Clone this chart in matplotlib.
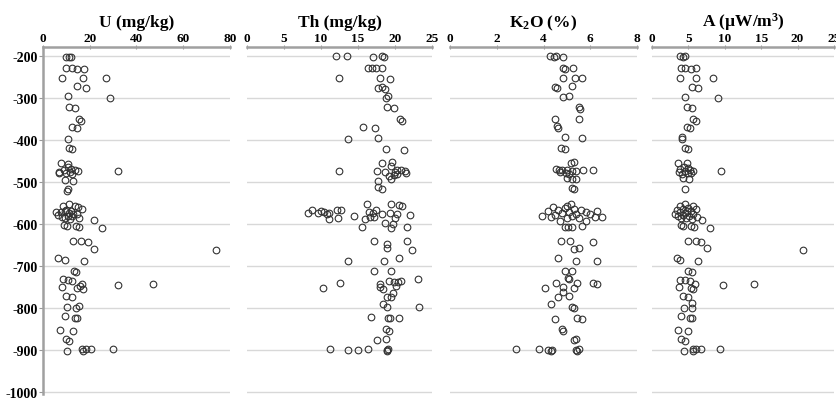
import matplotlib
matplotlib.use("Agg")
import matplotlib.pyplot as plt

plt.rcParams["font.family"] = "Liberation Serif"
plt.rcParams["font.weight"] = "bold"
plt.rcParams["axes.unicode_minus"] = False
plt.rcParams["mathtext.fontset"] = "custom"
plt.rcParams["mathtext.rm"] = "Liberation Serif:bold"
plt.rcParams["mathtext.default"] = "rm"

# U (mg/kg) against depth
u_depth = [-201, -201, -202, -229, -229, -230, -230, -252, -251, -251,
           -272, -275, -295, -300, -322, -324, -350, -354, -368, -371,
           -397, -418, -421, -454, -456,
           -465, -468, -470, -472, -474, -475, -477, -479, -480, -478, -473,
           -495, -497, -516, -521,
           -553, -557, -558, -560, -564, -566, -568, -570, -572, -574,
           -575, -577, -578, -580, -581, -583, -585, -587, -586, -571,
           -590, -603, -605, -604, -606, -609, -640, -641, -642,
           -660, -661, -680, -686, -687, -712, -715,
           -732, -734, -736, -742, -745, -744, -751, -753, -755, -748,
           -771, -775, -798, -799, -796, -820, -823, -824, -852, -855,
           -875, -878, -898, -897, -897, -897, -903, -902]
u_val = [9.8, 11.0, 12.0, 10.0, 12.3, 14.5, 17.5, 8.2, 17.0, 27.0,
         14.5, 18.3, 10.8, 28.6, 11.0, 13.7, 15.4, 16.2, 12.3, 14.5,
         10.8, 11.0, 12.3, 7.6, 10.8,
         10.8, 12.0, 9.0, 13.5, 15.0, 11.5, 7.0, 10.0, 12.5, 6.8, 31.9,
         9.4, 12.8, 10.8, 10.2,
         11.0, 8.5, 13.5, 15.0, 16.5, 10.0, 12.0, 9.5, 7.5, 11.0,
         13.0, 14.5, 6.5, 10.5, 12.5, 8.0, 15.5, 11.5, 9.5, 5.5,
         21.8, 9.0, 10.2, 14.0, 15.4, 25.4, 12.7, 16.2, 19.3,
         21.9, 74.2, 6.4, 9.4, 17.6, 13.2, 14.0,
         8.5, 10.5, 12.4, 16.6, 32.0, 47.1, 8.0, 14.4, 17.1, 15.8,
         9.7, 12.4, 10.2, 14.0, 15.4, 9.4, 13.7, 14.6, 7.3, 12.7,
         9.8, 11.1, 16.9, 18.3, 20.5, 29.8, 10.3, 17.1]

# Th (mg/kg) against depth
th_depth = [-200, -200, -201, -200, -202, -228, -229, -228, -229,
            -252, -251, -254, -276, -274, -277, -295, -300, -322, -324,
            -350, -355, -369, -371, -397, -395, -421, -423, -454, -452, -461,
            -473, -473, -476, -470, -472, -474, -477, -480, -479, -482, -485,
            -497, -493, -512, -516, -553, -551, -555, -558,
            -566, -568, -566, -566, -567,
            -573, -573, -572, -574, -575, -572, -574, -576, -573, -575,
            -580, -578, -588, -586, -587, -584, -583, -585,
            -598, -601, -607, -610, -608, -640, -641, -647, -657, -661,
            -680, -687, -687, -713, -713, -730,
            -736, -737, -738, -736, -742, -740, -753, -751, -755, -748,
            -765, -775, -773, -790, -798, -797, -822, -824, -824, -825,
            -850, -856, -877, -875,
            -897, -899, -900, -898, -899, -897, -903]
th_val = [12.0, 13.5, 17.0, 18.2, 18.5, 16.4, 16.9, 17.4, 18.2,
          12.4, 17.9, 19.3, 17.7, 18.3, 18.6, 19.0, 18.8, 18.9, 19.8,
          20.7, 20.9, 15.7, 17.3, 13.7, 17.7, 18.8, 21.2, 18.2, 19.6, 19.4,
          12.4, 17.5, 18.6, 20.3, 20.8, 21.3, 20.0, 20.2, 21.5, 19.9, 19.2,
          17.7, 19.5, 17.7, 18.3, 16.2, 19.4, 20.6, 20.9,
          8.8, 10.0, 12.2, 12.7, 17.4,
          8.2, 9.6, 10.4, 11.1, 10.8, 16.5, 17.0, 18.3, 19.3, 20.3,
          14.5, 22.0, 11.1, 12.3, 16.0, 16.6, 17.2, 20.0,
          18.6, 19.7, 15.6, 19.4, 21.6, 17.2, 21.6, 18.9, 18.9, 22.3,
          20.6, 13.7, 18.5, 17.2, 19.5, 23.1,
          19.2, 19.9, 20.4, 20.8, 18.0, 12.6, 10.3, 18.0, 18.4, 20.1,
          19.7, 18.9, 19.4, 18.4, 18.9, 23.2, 16.7, 19.0, 19.3, 20.5,
          18.8, 19.2, 17.6, 18.8,
          11.2, 13.6, 15.0, 16.4, 18.9, 19.1, 18.9]

# K2O (%) against depth
k_depth = [-200, -201, -200, -201, -228, -230, -229, -252, -252, -251,
           -274, -276, -272, -297, -294, -322, -325, -350, -350, -366, -370,
           -393, -395, -419, -420, -454, -452,
           -468, -470, -472, -474, -476, -473, -478, -480, -471, -470, -471,
           -490, -493, -492, -514, -517, -552,
           -557, -560, -562, -564, -566, -567, -568, -570, -571, -572,
           -574, -575, -577, -578, -580, -581, -582, -584, -585, -586, -583,
           -593, -593, -606, -608, -607, -605, -640, -640, -642,
           -660, -658, -680, -687, -688, -712, -713, -728, -731,
           -740, -740, -741, -742, -752, -750, -753, -761, -775, -772,
           -791, -798, -799, -826, -823, -826, -851, -855, -877, -873,
           -898, -898, -899, -899, -899, -897, -903, -903]
k_val = [4.27, 4.44, 4.53, 4.84, 4.84, 4.90, 5.25, 4.84, 5.35, 5.64,
         4.49, 4.58, 5.20, 4.84, 5.10, 5.50, 5.56, 4.49, 5.50, 4.56, 4.62,
         4.93, 5.64, 4.74, 4.94, 5.17, 5.30,
         4.55, 4.80, 5.00, 5.20, 4.70, 5.40, 4.95, 5.10, 4.65, 5.70, 6.10,
         5.00, 5.20, 5.40, 5.20, 5.30, 5.16,
         5.0, 4.4, 4.9, 5.3, 4.6, 5.6, 6.3, 4.2, 5.1, 5.8,
         4.8, 5.4, 6.0, 4.5, 5.2, 3.95, 6.5, 4.3, 5.0, 5.5, 6.2,
         4.7, 5.8, 4.9, 5.05, 5.2, 5.65, 4.73, 5.15, 6.10,
         5.30, 5.50, 4.60, 5.40, 6.30, 4.93, 5.20, 5.05, 5.10,
         4.55, 5.45, 6.10, 6.30, 4.07, 4.84, 5.30, 4.84, 4.60, 5.10,
         4.30, 5.20, 5.30, 4.50, 5.45, 5.65, 4.78, 4.82, 5.30, 5.40,
         2.82, 3.80, 4.20, 4.38, 5.38, 5.50, 4.30, 5.42]

# heat production A (uW/m3) against depth
a_depth = [-200, -201, -200, -229, -229, -230, -229, -252, -251, -251,
           -273, -275, -297, -300, -322, -324, -350, -354, -368, -371,
           -393, -397, -418, -421, -454, -454,
           -464, -467, -469, -471, -473, -474, -476, -478, -480, -479, -473,
           -490, -492, -516,
           -553, -556, -558, -561, -563, -565, -567, -569, -570, -572,
           -573, -575, -576, -578, -580, -581, -583, -585, -586, -587,
           -591, -603, -605, -604, -606, -609, -640, -641, -643,
           -657, -661, -680, -685, -687, -711, -714,
           -733, -734, -735, -742, -745, -744, -751, -753, -755,
           -771, -775, -789, -800, -801, -820, -823, -824, -852, -855,
           -875, -878, -897, -898, -897, -897, -903, -902]
a_val = [3.85, 4.3, 4.6, 4.0, 4.5, 5.3, 6.1, 3.9, 6.1, 8.4,
         5.5, 6.3, 4.5, 9.1, 4.8, 5.5, 5.7, 6.0, 4.8, 5.2,
         4.1, 4.1, 4.6, 5.0, 3.6, 4.8,
         4.4, 4.9, 3.9, 5.2, 5.6, 4.5, 3.7, 4.9, 4.1, 5.4, 9.5,
         4.2, 5.1, 4.6,
         4.6, 5.6, 3.9, 5.0, 4.3, 6.0, 3.4, 4.8, 5.4, 3.8,
         4.5, 5.7, 3.1, 4.2, 5.1, 3.6, 6.2, 4.7, 4.0, 5.5,
         6.9, 4.0, 4.3, 5.4, 5.8, 7.9, 4.9, 6.0, 6.8,
         7.5, 20.8, 3.4, 3.9, 6.3, 4.9, 5.5,
         3.9, 4.5, 5.2, 5.9, 9.8, 14.0, 3.7, 5.3, 5.7,
         4.2, 4.9, 5.5, 4.4, 5.5, 4.0, 5.2, 5.5, 3.6, 5.0,
         4.0, 4.5, 5.6, 6.1, 6.8, 9.4, 4.4, 5.7]

titles = ["U (mg/kg)", "Th (mg/kg)", "K$_2$O (%)", "A (\u00b5W/m$^3$)"]
xmax = [80, 25, 8, 25]
xstep = [20, 5, 2, 5]
depth_ticks = list(range(-1000, -199, 100))

# panel boxes in figure fractions: left, width
boxes = [(0.0514, 0.2237), (0.2955, 0.2213), (0.5383, 0.2237), (0.7799, 0.2177)]
bottom, top = 0.0174, 0.8806

fig = plt.figure(figsize=(8.36, 4.02), dpi=100)
series = [(u_depth, u_val), (th_depth, th_val), (k_depth, k_val), (a_depth, a_val)]

for i, ((depth, val), (left, width)) in enumerate(zip(series, boxes)):
    ax = fig.add_axes([left, bottom, width, top - bottom])
    ax.set_xlim(0, xmax[i])
    ax.set_ylim(-1005, -178)
    ax.set_yticks(depth_ticks)
    ax.set_xticks(range(0, xmax[i] + 1, xstep[i]))
    for d in depth_ticks:
        ax.axhline(d, color="#d8d8d8", lw=1.0, zorder=0)
    ax.plot(val, depth, "o", ms=4.8, mfc="none", mec="#333333", mew=0.8,
            zorder=3)

    ax.xaxis.tick_top()
    ax.tick_params(axis="x", direction="inout", length=3, width=0.8,
                   color="#999999", pad=1, labelsize=9.5)
    for s in ("right", "bottom"):
        ax.spines[s].set_visible(False)
    ax.spines["top"].set_color("#a0a0a0")
    ax.spines["top"].set_linewidth(1.8)
    if i == 0:
        ax.spines["left"].set_color("#a0a0a0")
        ax.spines["left"].set_linewidth(1.8)
        ax.tick_params(axis="y", direction="out", length=3, width=0.8,
                       color="#999999", pad=1, labelsize=10)
    else:
        ax.spines["left"].set_visible(False)
        ax.tick_params(axis="y", left=False, labelleft=False)
    ax.set_title(titles[i], fontsize=12.5, fontweight="bold", pad=4)

fig.savefig("out.png", dpi=100)
